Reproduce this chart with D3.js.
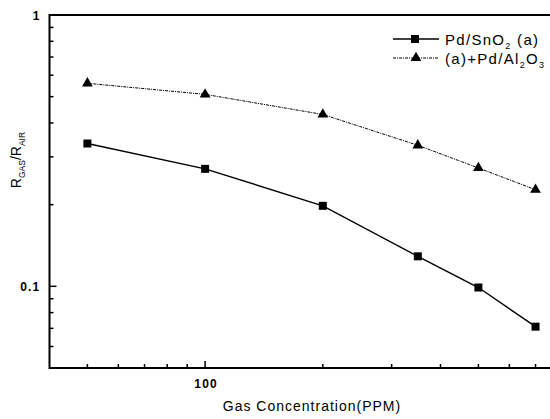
<!DOCTYPE html>
<html>
<head>
<meta charset="utf-8">
<script src="https://cdn.jsdelivr.net/npm/d3@7"></script>
<style>
  body { margin: 0; background: #fff; }
  text { font-family: "Liberation Sans", Arial, sans-serif; fill: #000; }
</style>
</head>
<body>
<div id="chart"></div>
<script>
// Gas response vs concentration (log-log)
var concentration = [50, 100, 200, 350, 500, 700];
var snO2 = [0.336, 0.271, 0.198, 0.129, 0.099, 0.071];
var alO3 = [0.56, 0.51, 0.43, 0.331, 0.273, 0.227];
var xMajor = [100];
var xMinor = [50, 60, 70, 80, 90, 200, 300, 400, 500, 600, 700];
var yMajor = [0.1, 1];
var yMinor = [0.06, 0.07, 0.08, 0.09, 0.2, 0.3, 0.4, 0.5, 0.6, 0.7, 0.8, 0.9];

var svgWidth = 550;
var svgHeight = 419;
var plotLeft = 49.5, plotTop = 15, plotBottom = 368;

var svg = d3.select("#chart")
  .append("svg")
  .attr("width", svgWidth)
  .attr("height", svgHeight);

var x = d3.scaleLog().domain([40, 800]).range([plotLeft, plotLeft + 391 * Math.log10(20)]);
var y = d3.scaleLog().domain([0.05, 1]).range([plotBottom, plotTop]);

// frame (right side falls outside the picture)
svg.append("path")
  .attr("d", `M${x(800)},${plotTop}H${plotLeft}V${plotBottom}H${x(800)}`)
  .attr("fill", "none")
  .attr("stroke", "#000")
  .attr("stroke-width", 2);

// ticks, pointing inward
function xTicks(vals, len) {
  svg.selectAll(null).data(vals).enter().append("line")
    .attr("x1", d => x(d)).attr("x2", d => x(d))
    .attr("y1", plotBottom).attr("y2", plotBottom - len)
    .attr("stroke", "#000").attr("stroke-width", 1.5);
}
function yTicks(vals, len) {
  svg.selectAll(null).data(vals).enter().append("line")
    .attr("x1", plotLeft).attr("x2", plotLeft + len)
    .attr("y1", d => y(d)).attr("y2", d => y(d))
    .attr("stroke", "#000").attr("stroke-width", 1.5);
}
xTicks(xMajor, 7);
xTicks(xMinor, 4);
yTicks(yMajor, 7);
yTicks(yMinor, 4);

svg.selectAll(null).data(xMajor).enter().append("text")
  .attr("x", d => x(d) + 1)
  .attr("y", plotBottom + 20)
  .attr("text-anchor", "middle")
  .style("font-size", "12px")
  .style("font-weight", "bold")
  .style("letter-spacing", "1.2px")
  .text(d => d);

svg.selectAll(null).data(yMajor).enter().append("text")
  .attr("x", plotLeft - 9)
  .attr("y", d => y(d) + 4.5)
  .attr("text-anchor", "end")
  .style("font-size", "12px")
  .style("font-weight", "bold")
  .style("letter-spacing", "1.2px")
  .text(d => d);

// axis titles
svg.append("text")
  .attr("x", 312)
  .attr("y", 411)
  .attr("text-anchor", "middle")
  .style("font-size", "14px")
  .style("letter-spacing", "1px")
  .text("Gas Concentration(PPM)");

var yl = svg.append("text")
  .attr("transform", "translate(21,160) rotate(-90)")
  .attr("text-anchor", "middle")
  .style("font-size", "14px");
yl.append("tspan").text("R");
yl.append("tspan").attr("dy", 4).style("font-size", "8.5px").text("GAS");
yl.append("tspan").attr("dy", -4).text("/R");
yl.append("tspan").attr("dy", 4).style("font-size", "8.5px").text("AIR");

// series
var line = d3.line().x(d => x(d[0])).y(d => y(d[1]));
var sqData = concentration.map((c, i) => [c, snO2[i]]);
var trData = concentration.map((c, i) => [c, alO3[i]]);

svg.append("path").datum(sqData)
  .attr("d", line).attr("fill", "none")
  .attr("stroke", "#000").attr("stroke-width", 1.4);

svg.append("path").datum(trData)
  .attr("d", line).attr("fill", "none")
  .attr("stroke", "#000").attr("stroke-width", 1)
  .attr("stroke-dasharray", "3,1,1,1");

var sq = d3.symbol().type(d3.symbolSquare).size(64);
var tr = d3.symbol().type(d3.symbolTriangle).size(50);

svg.selectAll(null).data(sqData).enter().append("path")
  .attr("d", sq)
  .attr("transform", d => `translate(${x(d[0])},${y(d[1])})`)
  .attr("fill", "#000");

svg.selectAll(null).data(trData).enter().append("path")
  .attr("d", tr)
  .attr("transform", d => `translate(${x(d[0])},${y(d[1])})`)
  .attr("fill", "#000");

// legend
var lg = svg.append("g");
lg.append("line").attr("x1", 393).attr("x2", 439).attr("y1", 39).attr("y2", 39)
  .attr("stroke", "#000").attr("stroke-width", 1.4);
lg.append("path").attr("d", sq).attr("transform", "translate(415,39)");
lg.append("line").attr("x1", 393).attr("x2", 439).attr("y1", 58).attr("y2", 58)
  .attr("stroke", "#000").attr("stroke-width", 1).attr("stroke-dasharray", "3,1,1,1");
lg.append("path").attr("d", tr).attr("transform", "translate(416,58)");

var t1 = lg.append("text").attr("x", 445).attr("y", 44.5)
  .style("font-size", "15px").style("letter-spacing", "1.3px");
t1.append("tspan").text("Pd/SnO");
t1.append("tspan").attr("dy", 4).style("font-size", "9px").text("2");
t1.append("tspan").attr("dy", -4).text(" (a)");

var t2 = lg.append("text").attr("x", 445).attr("y", 63.5)
  .style("font-size", "15px").style("letter-spacing", "1.3px");
t2.append("tspan").text("(a)+Pd/Al");
t2.append("tspan").attr("dy", 4).style("font-size", "9px").text("2");
t2.append("tspan").attr("dy", -4).text("O");
t2.append("tspan").attr("dy", 4).style("font-size", "9px").text("3");
</script>
</body>
</html>
